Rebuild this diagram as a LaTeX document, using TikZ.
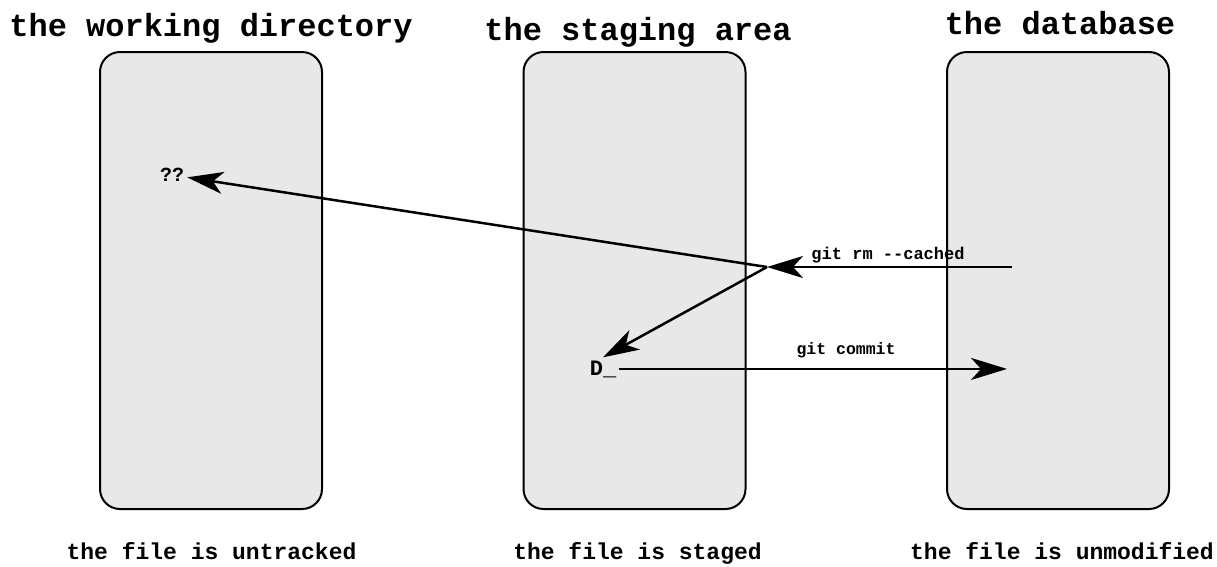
\documentclass[tikz,border=0pt]{standalone}
\usepackage{fontspec}
\setmonofont{Liberation Mono}
\usetikzlibrary{arrows.meta}
\definecolor{boxfill}{HTML}{E8E8E8}
\tikzset{
  store/.style={draw=black, line width=2pt, fill=boxfill, rounded corners=20pt,
    minimum width=222pt, minimum height=457pt, inner sep=0pt},
  title/.style={font=\fontsize{32}{32}\selectfont\ttfamily\bfseries, anchor=base, inner sep=0pt},
  state/.style={font=\fontsize{23}{23}\selectfont\ttfamily\bfseries, anchor=base, inner sep=0pt},
  mark/.style={font=\fontsize{#1}{#1}\selectfont\ttfamily\bfseries, inner sep=3pt},
  cmd/.style={font=\fontsize{#1}{#1}\selectfont\ttfamily\bfseries, inner sep=0pt},
  flow/.style={line width=2.5pt, -{Stealth[length=36pt,width=22pt,inset=10pt]}},
}
\begin{document}
\begin{tikzpicture}[x=1pt,y=-1pt]
\useasboundingbox (0,0) rectangle (1217,566);
% boxes
\node[store] (wd) at (211,280.5) {};
\node[store] (sa) at (634.5,280.5) {};
\node[store] (db) at (1058,280.5) {};
% titles
\node[title] (twd) at (211,36) {the working directory};
\node[title] (tsa) at (638,40) {the staging area};
\node[title] (tdb) at (1060,34) {the database};
% states
\node[state] (swd) at (211.5,559) {the file is untracked};
\node[state] (ssa) at (637.5,559) {the file is staged};
\node[state] (sdb) at (1062,559) {the file is unmodified};
% markers
\node[mark=20] (qq) at (172,175) {??};
\node[mark=22, anchor=base] (D) at (603,375) {D\_};
% connector points
\coordinate (rmstart) at (1012,267);
\coordinate (J) at (767,267);
\coordinate (cend) at (1007,369);
% arrows
\draw[flow] (rmstart) -- (J);
\draw[flow] (J) -- (qq);
\draw[flow] (J) -- (D.north);
\draw[flow] (D.east) -- (D.east -| cend);
% labels
\node[cmd=17] (lrm) at (888,255) {git rm --cached};
\node[cmd=16.5] (lcm) at (846,350) {git commit};
\end{tikzpicture}
\end{document}
